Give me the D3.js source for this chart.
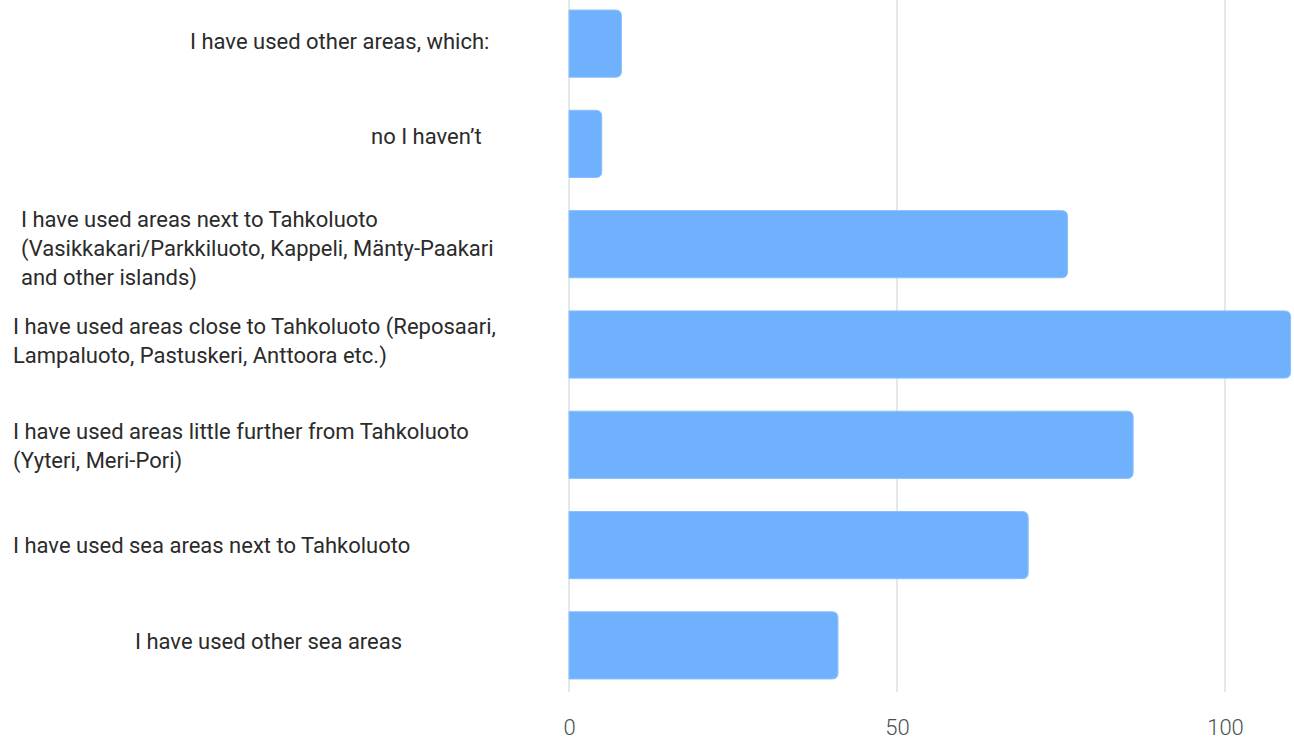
<!DOCTYPE html>
<html>
<head>
<meta charset="utf-8">
<script src="https://cdn.jsdelivr.net/npm/d3@7/dist/d3.min.js"></script>
<style>
  html, body { margin: 0; padding: 0; background: #fff; }
  svg { display: block; }
</style>
</head>
<body>
<svg id="chart" width="1294" height="745"></svg>
<script>
// Survey answers (one bar per answer)
const categories = [
  ["I have used other areas, which:"],
  ["no I haven\u2019t"],
  ["I have used areas next to Tahkoluoto", "(Vasikkakari/Parkkiluoto, Kappeli, M\u00e4nty-Paakari", "and other islands)"],
  ["I have used areas close to Tahkoluoto (Reposaari,", "Lampaluoto, Pastuskeri, Anttoora etc.)"],
  ["I have used areas little further from Tahkoluoto", "(Yyteri, Meri-Pori)"],
  ["I have used sea areas next to Tahkoluoto"],
  ["I have used other sea areas"]
];
const values = [8, 5, 76, 110, 86, 70, 41];
const tickValues = [0, 50, 100];

// Left edge of each label block and small vertical nudge
const labelLeft = [190, 371, 21, 13, 13, 13, 135];
const labelNudge = [-3, -8, 4, -4, 1, 0, -4];

const svg = d3.select("#chart");
const font = "Roboto, 'Noto Sans', sans-serif";

const x = d3.scaleLinear().domain([0, 100]).range([569, 1225]);
const y = d3.scaleBand()
  .domain(d3.range(values.length))
  .range([0, 689])
  .paddingInner(0.33)
  .paddingOuter(0.1);

// vertical grid lines
svg.append("g")
  .selectAll("line")
  .data(tickValues)
  .join("line")
  .attr("x1", d => x(d)).attr("x2", d => x(d))
  .attr("y1", 0).attr("y2", 692)
  .attr("stroke", "#e3e9e9")
  .attr("stroke-width", 2);

// bars with rounded right end
function barPath(x0, x1, y0, h, r) {
  r = Math.min(r, (x1 - x0), h / 2);
  return `M${x0},${y0}H${x1 - r}Q${x1},${y0} ${x1},${y0 + r}` +
         `V${y0 + h - r}Q${x1},${y0 + h} ${x1 - r},${y0 + h}H${x0}Z`;
}
svg.append("g")
  .selectAll("path")
  .data(values)
  .join("path")
  .attr("d", (d, i) => barPath(x(0), x(d), y(i), y.bandwidth(), 6))
  .attr("fill", "#70b1fe")
  .attr("stroke", "#8cc0fd")
  .attr("stroke-width", 1);

// x axis tick labels
const xAxis = d3.axisBottom(x).tickValues(tickValues).tickSize(0).tickPadding(0);
const ax = svg.append("g").attr("transform", "translate(0,719)").call(xAxis);
ax.select(".domain").remove();
ax.selectAll("text")
  .attr("font-family", font)
  .attr("font-size", 22)
  .attr("font-weight", 300)
  .attr("fill", "#4a4f55");

// category labels
const lineH = 29;
const lab = svg.append("g")
  .attr("font-family", font)
  .attr("font-size", 22)
  .attr("fill", "#2b2b2b");
categories.forEach((lines, i) => {
  const cy = y(i) + y.bandwidth() / 2 + labelNudge[i];
  const top = cy - (lines.length - 1) * lineH / 2;
  const t = lab.append("text")
    .attr("x", labelLeft[i])
    .attr("y", top)
    .attr("dominant-baseline", "central");
  lines.forEach((s, k) => {
    t.append("tspan")
      .attr("x", labelLeft[i])
      .attr("y", top + k * lineH)
      .text(s);
  });
});
</script>
</body>
</html>
